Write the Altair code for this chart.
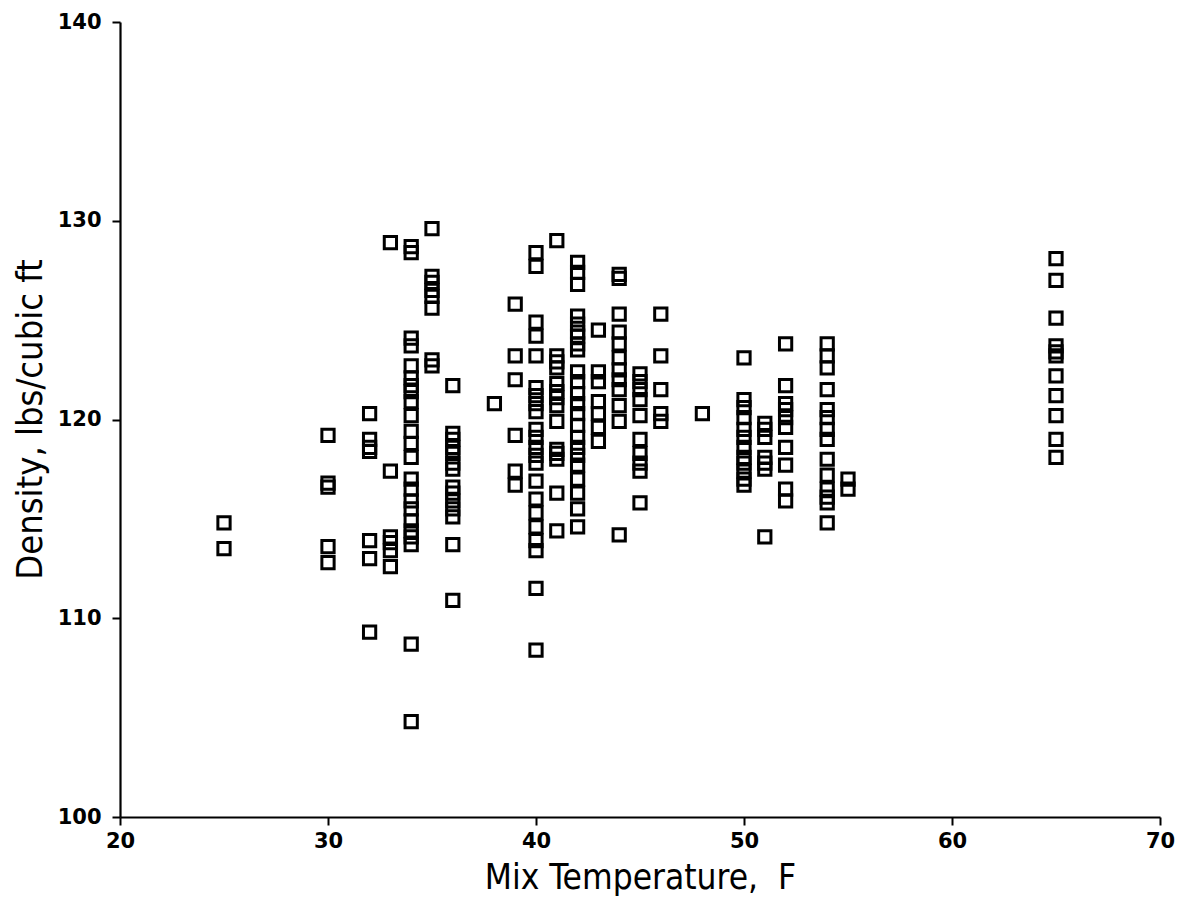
import altair as alt
import pandas as pd

# Density (lbs/cubic ft) readings grouped by mix temperature (F)
d25 = [114.8, 113.5]
d30 = [119.2, 116.8, 116.6, 113.6, 112.8]
d32 = [120.3, 119.0, 118.6, 118.4, 113.9, 113.0, 109.3]
d33 = [128.9, 117.4, 114.1, 113.8, 113.4, 112.6]
d34 = [128.7, 128.4, 124.1, 123.7, 122.7, 122.1, 121.7, 121.4, 120.9, 120.2, 119.4,
       118.8, 118.1, 117.0, 116.5, 115.9, 115.5, 114.9, 114.4, 114.1, 113.7, 108.7, 104.8]
d35 = [129.6, 127.2, 126.9, 126.5, 126.2, 125.6, 123.0, 122.7]
d36 = [121.7, 119.3, 119.0, 118.6, 118.3, 117.8, 117.5, 116.6, 116.3, 115.9, 115.5,
       115.1, 113.7, 110.9]
d38 = [120.8]
d39 = [125.8, 123.2, 122.0, 119.2, 117.4, 116.7]
d40 = [128.4, 127.7, 124.9, 124.2, 123.2, 121.6, 121.2, 120.8, 120.4, 119.5, 119.1,
       118.6, 118.2, 117.8, 116.9, 116.0, 115.3, 114.6, 113.9, 113.4, 111.5, 108.4]
d41 = [129.0, 123.2, 122.9, 122.6, 121.8, 121.4, 121.1, 120.7, 119.9, 118.5, 118.3,
       118.0, 116.3, 114.4]
d42 = [127.9, 127.4, 126.8, 125.2, 124.8, 124.4, 124.2, 123.8, 123.5, 122.4, 121.9,
       121.3, 120.8, 120.3, 119.7, 119.1, 118.6, 118.2, 117.7, 117.0, 116.3, 115.5, 114.6]
d43 = [124.5, 122.4, 121.9, 120.9, 120.3, 119.6, 118.9]
d44 = [127.3, 127.1, 125.3, 124.4, 123.8, 123.1, 122.5, 122.0, 121.5, 120.7, 119.9, 114.2]
d45 = [122.3, 121.9, 121.5, 121.0, 120.2, 119.0, 118.3, 117.8, 117.4, 115.8]
d46 = [125.3, 123.2, 121.5, 120.3, 119.9]
d48 = [120.3]
d50 = [123.1, 121.0, 120.6, 120.1, 119.5, 119.1, 118.6, 118.1, 117.8, 117.4, 117.0, 116.7]
d51 = [119.8, 119.5, 119.1, 118.1, 117.8, 117.5, 114.1]
d52 = [123.8, 121.7, 120.8, 120.5, 120.1, 119.6, 118.6, 117.7, 116.5, 115.9]
d54 = [123.8, 123.2, 122.6, 121.5, 120.5, 120.1, 119.5, 119.0, 118.0, 117.2, 116.5,
       116.1, 115.8, 114.8]
d55 = [117.0, 116.5]
d65 = [128.1, 127.0, 125.1, 123.7, 123.4, 123.2, 122.2, 121.2, 120.2, 119.0, 118.1]

temperatures = [25, 30, 32, 33, 34, 35, 36, 38, 39, 40, 41, 42, 43, 44, 45, 46, 48,
                50, 51, 52, 54, 55, 65]
groups = [d25, d30, d32, d33, d34, d35, d36, d38, d39, d40, d41, d42, d43, d44, d45,
          d46, d48, d50, d51, d52, d54, d55, d65]

x_ticks = [20, 30, 40, 50, 60, 70]
y_ticks = [100, 110, 120, 130, 140]

x_title = "Mix Temperature,\u00a0\u00a0F"
y_title = "Density, lbs/cubic ft"

rows = []
for t, vals in zip(temperatures, groups):
    for v in vals:
        rows.append({"temp": t, "density": v})
df = pd.DataFrame(rows)

label_font = "DejaVu Sans"
title_font = "DejaVu Sans Condensed, Liberation Sans, sans-serif"

chart = alt.Chart(df).mark_point(
    shape="square", filled=False, color="black", size=150, strokeWidth=3, opacity=1
).encode(
    x=alt.X("temp:Q",
            scale=alt.Scale(domain=[20, 70], nice=False, zero=False),
            axis=alt.Axis(values=x_ticks, title=x_title, grid=False, labelFlush=False,
                          tickSize=8, tickWidth=2, domainWidth=2.2, domainColor="black",
                          tickColor="black", labelFont=label_font, labelFontSize=21,
                          labelFontWeight="bold", labelColor="black", labelPadding=5,
                          titleFont=title_font, titleFontSize=35, titleFontWeight="normal",
                          titleColor="black", titlePadding=9)),
    y=alt.Y("density:Q",
            scale=alt.Scale(domain=[100, 140], nice=False, zero=False),
            axis=alt.Axis(values=y_ticks, title=y_title, grid=False, labelFlush=False,
                          tickSize=8, tickWidth=2, domainWidth=2.2, domainColor="black",
                          tickColor="black", labelFont=label_font, labelFontSize=21,
                          labelFontWeight="bold", labelColor="black", labelPadding=11,
                          titleFont=title_font, titleFontSize=36, titleFontWeight="normal",
                          titleColor="black", titleX=-90, titleY=397,
                          titleAngle=270, titleAlign="center", titleBaseline="middle")),
).properties(
    width=1040, height=795,
    background="white",
    autosize=alt.AutoSizeParams(type="none"),
    padding={"left": 120, "top": 22, "right": 24, "bottom": 96},
).configure_view(stroke=None)

chart.save("out.html", embed_options={"renderer": "svg", "actions": False})
